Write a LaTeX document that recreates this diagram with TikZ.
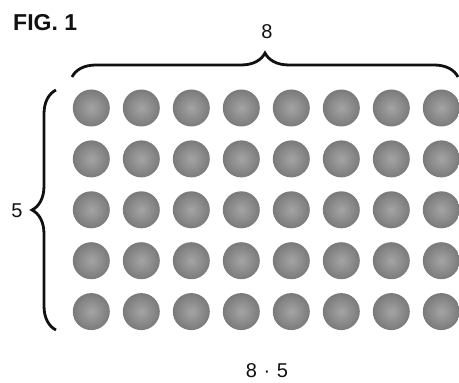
\documentclass[tikz,border=0pt]{standalone}
\usepackage{fontspec}
\setmainfont{Liberation Sans}
\usepackage{xcolor}
\usetikzlibrary{positioning,calc,decorations.pathreplacing}
\definecolor{dotcore}{HTML}{A4A4A4}
\definecolor{dotrim}{HTML}{7A7A7A}
\definecolor{figink}{HTML}{111111}
\tikzset{
  dot/.style={circle,minimum size=37pt,inner sep=0pt,
              inner color=dotcore,outer color=dotrim},
  bracegrp/.style={decorate,decoration={brace,amplitude=24pt},
                   line width=2.8pt,draw=figink},
  lbl/.style={font=\fontsize{20}{20}\selectfont,text=figink,inner sep=0pt},
}

\begin{document}
\begin{tikzpicture}[x=1pt,y=1pt]
  \useasboundingbox (0,0) rectangle (459,383);
  \node[font=\fontsize{23}{23}\selectfont\bfseries,text=figink,anchor=west,inner sep=0pt] (fig) at (13,360) {FIG. 1};
  % array of dots, 8 columns by 5 rows
  \foreach \c in {1,...,8}{
    \foreach \r in {1,...,5}{
      \node[dot] (d-\c-\r) at ({91.3+50*(\c-1)},{383-108-50.9*(\r-1)}) {};
    }
  }
  \coordinate (tl) at (72,306);
  \coordinate (tr) at (458,306);
  \coordinate (lb) at (56,53);
  \coordinate (lt) at (56,293);
  \draw[bracegrp] (tl) -- (tr);
  \draw[bracegrp] (lb) -- (lt);
  \node[lbl] (cols) at (267,351) {8};
  \node[lbl] (rows) at (17,172) {5};
  \node[lbl] (prod) at (267,12) {8\,\,·\,\,5};
\end{tikzpicture}
\end{document}
